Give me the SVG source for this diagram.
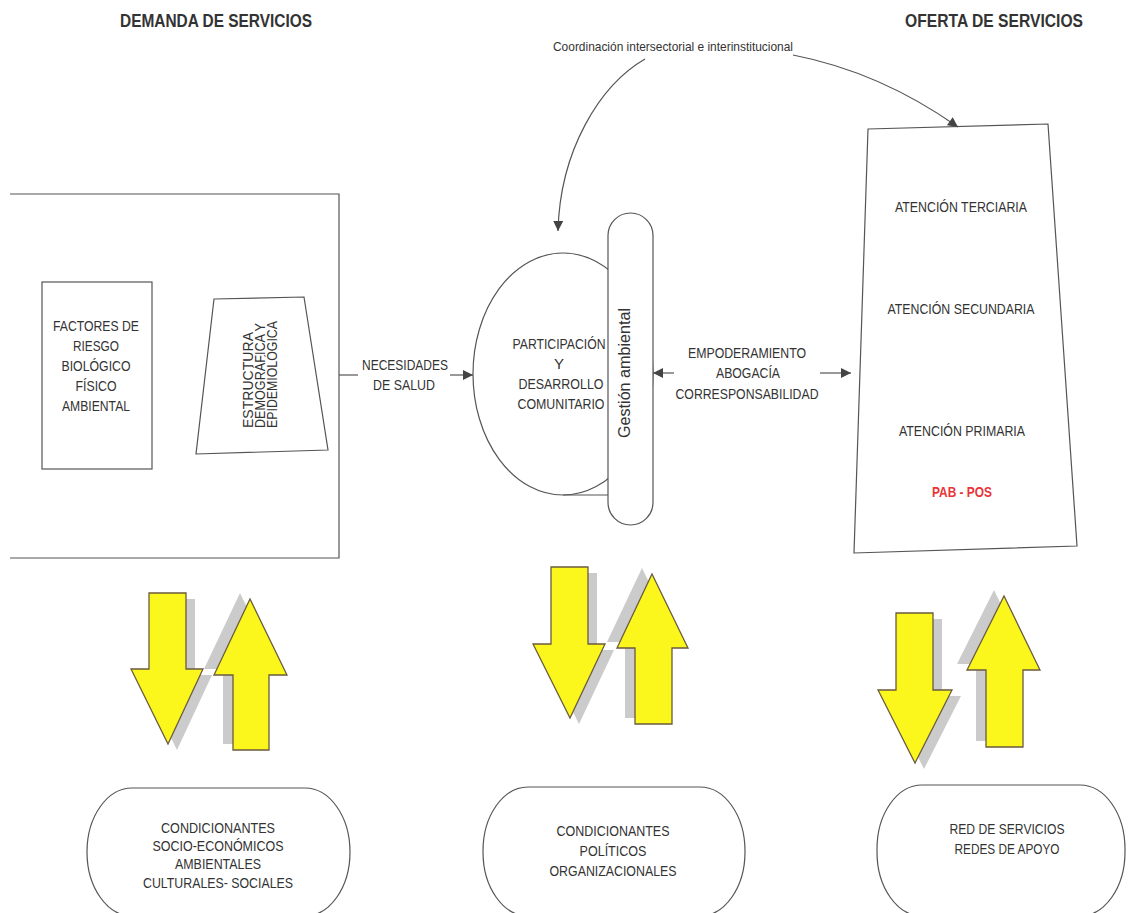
<svg xmlns="http://www.w3.org/2000/svg" width="1128" height="913" viewBox="0 0 1128 913">
<style>
.ln{fill:none;stroke:#555;stroke-width:1.2}
.shape{fill:#fff;stroke:#555;stroke-width:1.2}
.t{font-family:"Liberation Sans Narrow","Liberation Sans",Arial,sans-serif;font-size:15px;fill:#333;text-anchor:middle}
.h{font-family:"Liberation Sans Narrow","Liberation Sans",Arial,sans-serif;font-size:18px;font-weight:bold;fill:#333;text-anchor:middle}
.r{font-family:"Liberation Sans",Arial,sans-serif;font-size:14px;fill:#333}
.ya{fill:#fbf71c;stroke:#6b5b3e;stroke-width:1.3}
.sh{fill:#cbcbcb}
</style>
<defs>
<marker id="ah" viewBox="0 0 10 10" refX="10" refY="5" markerWidth="12" markerHeight="10" markerUnits="userSpaceOnUse" orient="auto">
<path d="M0,0 L10,5 L0,10 z" fill="#444"/>
</marker>
</defs>
<rect width="1128" height="913" fill="#fff"/>

<g id="headers">
<text class="h" x="216" y="27" textLength="192" lengthAdjust="spacingAndGlyphs">DEMANDA DE SERVICIOS</text>
<text class="h" x="994" y="27" textLength="178" lengthAdjust="spacingAndGlyphs">OFERTA DE SERVICIOS</text>
</g>

<g id="demanda">
<path class="ln" d="M10,194 L339,194 L339,558 L10,558"/>
</g>
<g id="factores">
<rect class="shape" x="42" y="282" width="110" height="187"/>
<text class="t" x="96" y="331" textLength="86" lengthAdjust="spacingAndGlyphs">FACTORES DE</text>
<text class="t" x="96" y="351" textLength="46" lengthAdjust="spacingAndGlyphs">RIESGO</text>
<text class="t" x="96" y="371" textLength="69" lengthAdjust="spacingAndGlyphs">BIOLÓGICO</text>
<text class="t" x="96" y="391" textLength="41" lengthAdjust="spacingAndGlyphs">FÍSICO</text>
<text class="t" x="96" y="411" textLength="68" lengthAdjust="spacingAndGlyphs">AMBIENTAL</text>
</g>
<g id="estructura">
<polygon class="shape" points="214,299 304,297 328,450 196,454"/>
<g transform="translate(253,428) rotate(-90)">
<text class="r" x="0" y="0" textLength="96" lengthAdjust="spacingAndGlyphs">ESTRUCTURA</text>
<text class="r" x="0" y="12" textLength="105" lengthAdjust="spacingAndGlyphs">DEMOGRÁFICA Y</text>
<text class="r" x="0" y="24" textLength="107" lengthAdjust="spacingAndGlyphs">EPIDEMIOLÓGICA</text>
</g>
</g>

<g id="participacion">
<ellipse class="shape" cx="563" cy="374" rx="90" ry="121"/>
<line class="ln" x1="563" y1="495" x2="610" y2="495"/>
<text class="t" x="559" y="349" textLength="93" lengthAdjust="spacingAndGlyphs">PARTICIPACIÓN</text>
<text class="t" x="559" y="369">Y</text>
<text class="t" x="561" y="389" textLength="85" lengthAdjust="spacingAndGlyphs">DESARROLLO</text>
<text class="t" x="561" y="409" textLength="87" lengthAdjust="spacingAndGlyphs">COMUNITARIO</text>
</g>
<g id="gestion">
<rect class="shape" x="608" y="213" width="45" height="312" rx="22.5" ry="22.5"/>
<text transform="translate(630,373) rotate(-90)" x="0" y="0" style="font-family:'Liberation Sans',Arial,sans-serif;font-size:16px;fill:#333;text-anchor:middle" textLength="130" lengthAdjust="spacingAndGlyphs">Gestión ambiental</text>
</g>

<g id="oferta">
<polygon class="shape" points="868,129 1048,124 1077,546 854,553"/>
<text class="t" x="961" y="212" textLength="132" lengthAdjust="spacingAndGlyphs">ATENCIÓN TERCIARIA</text>
<text class="t" x="961" y="314" textLength="147" lengthAdjust="spacingAndGlyphs">ATENCIÓN SECUNDARIA</text>
<text class="t" x="962" y="436" textLength="126" lengthAdjust="spacingAndGlyphs">ATENCIÓN PRIMARIA</text>
<text class="t" x="962" y="497" textLength="60" lengthAdjust="spacingAndGlyphs" style="fill:#e8353a;font-weight:bold">PAB - POS</text>
</g>

<g id="connectors">
<line class="ln" x1="339" y1="375" x2="358" y2="375"/>
<text class="t" x="405" y="370" textLength="86" lengthAdjust="spacingAndGlyphs">NECESIDADES</text>
<text class="t" x="404" y="390" textLength="62" lengthAdjust="spacingAndGlyphs">DE SALUD</text>
<line class="ln" x1="450" y1="375" x2="473" y2="375" marker-end="url(#ah)"/>
<line class="ln" x1="674" y1="373" x2="653" y2="373" marker-end="url(#ah)"/>
<line class="ln" x1="820" y1="373" x2="851" y2="373" marker-end="url(#ah)"/>
<text class="t" x="747" y="358" textLength="118" lengthAdjust="spacingAndGlyphs">EMPODERAMIENTO</text>
<text class="t" x="748" y="378" textLength="64" lengthAdjust="spacingAndGlyphs">ABOGACÍA</text>
<text class="t" x="747" y="399" textLength="143" lengthAdjust="spacingAndGlyphs">CORRESPONSABILIDAD</text>
<text x="673" y="51" style="font-family:'Liberation Sans Narrow','Liberation Sans',Arial,sans-serif;font-size:13px;fill:#333;text-anchor:middle" textLength="240" lengthAdjust="spacingAndGlyphs">Coordinación intersectorial e interinstitucional</text>
<path class="ln" d="M645,59 C600,85 560,150 558,231" marker-end="url(#ah)"/>
<path class="ln" d="M793,55 Q880,72 958,127" marker-end="url(#ah)"/>
</g>

<g id="arrows-left">
<polygon class="sh" transform="translate(9,6)" points="149,593 186,593 186,669 203,669 168,744 131,669 149,669"/>
<polygon class="sh" transform="translate(-10,-6)" points="250,599 287,675 269,675 269,750 233,750 233,675 214,675"/>
<polygon class="ya" points="149,593 186,593 186,669 203,669 168,744 131,669 149,669"/>
<polygon class="ya" points="250,599 287,675 269,675 269,750 233,750 233,675 214,675"/>
</g>
<g id="arrows-middle">
<polygon class="sh" transform="translate(9,6)" points="551,567 588,567 588,644 605,644 570,718 533,644 551,644"/>
<polygon class="sh" transform="translate(-10,-6)" points="652,574 688,648 672,648 672,724 635,724 635,648 617,648"/>
<polygon class="ya" points="551,567 588,567 588,644 605,644 570,718 533,644 551,644"/>
<polygon class="ya" points="652,574 688,648 672,648 672,724 635,724 635,648 617,648"/>
</g>
<g id="arrows-right">
<polygon class="sh" transform="translate(9,6)" points="896,613 933,613 933,690 952,690 915,763 878,690 896,690"/>
<polygon class="sh" transform="translate(-10,-6)" points="1004,596 1040,670 1023,670 1023,747 986,747 986,670 967,670"/>
<polygon class="ya" points="896,613 933,613 933,690 952,690 915,763 878,690 896,690"/>
<polygon class="ya" points="1004,596 1040,670 1023,670 1023,747 986,747 986,670 967,670"/>
</g>

<g id="cond-socio">
<rect class="shape" x="87" y="788" width="263" height="128" rx="45" ry="64"/>
<text class="t" x="218" y="833" textLength="114" lengthAdjust="spacingAndGlyphs">CONDICIONANTES</text>
<text class="t" x="218" y="851" textLength="131" lengthAdjust="spacingAndGlyphs">SOCIO-ECONÓMICOS</text>
<text class="t" x="218" y="869" textLength="86" lengthAdjust="spacingAndGlyphs">AMBIENTALES</text>
<text class="t" x="218" y="888" textLength="150" lengthAdjust="spacingAndGlyphs">CULTURALES- SOCIALES</text>
</g>
<g id="cond-politicos">
<rect class="shape" x="483" y="787" width="262" height="129" rx="45" ry="64"/>
<text class="t" x="613" y="836" textLength="113" lengthAdjust="spacingAndGlyphs">CONDICIONANTES</text>
<text class="t" x="613" y="856" textLength="67" lengthAdjust="spacingAndGlyphs">POLÍTICOS</text>
<text class="t" x="613" y="876" textLength="127" lengthAdjust="spacingAndGlyphs">ORGANIZACIONALES</text>
</g>
<g id="red-servicios">
<rect class="shape" x="877" y="785" width="248" height="131" rx="45" ry="64"/>
<text class="t" x="1007" y="834" textLength="115" lengthAdjust="spacingAndGlyphs">RED DE SERVICIOS</text>
<text class="t" x="1007" y="854" textLength="105" lengthAdjust="spacingAndGlyphs">REDES DE APOYO</text>
</g>
</svg>
